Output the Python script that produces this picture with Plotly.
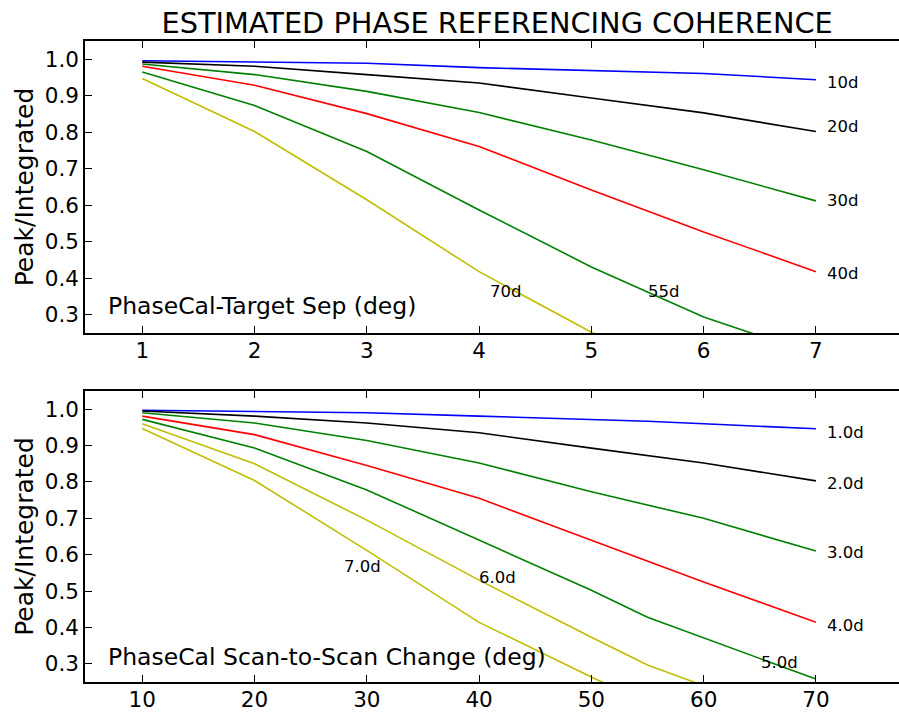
import plotly.graph_objects as go
from plotly.subplots import make_subplots

# ── Data ──────────────────────────────────────────────────
sep_x = [1, 2, 3, 4, 5, 6, 7]
sep_10d = [0.996, 0.993, 0.989, 0.977, 0.970, 0.961, 0.944]
sep_20d = [0.992, 0.981, 0.958, 0.935, 0.894, 0.853, 0.802]
sep_30d = [0.987, 0.958, 0.912, 0.854, 0.779, 0.697, 0.612]
sep_40d = [0.981, 0.929, 0.851, 0.761, 0.642, 0.527, 0.418]
sep_55d = [0.965, 0.873, 0.747, 0.587, 0.431, 0.294, 0.190]
sep_70d = [0.947, 0.802, 0.615, 0.418, 0.252, 0.120, 0.050]

scan_x = [10, 20, 30, 40, 50, 55, 60, 70]
scan_1d = [0.997, 0.993, 0.990, 0.981, 0.973, 0.967, 0.960, 0.946]
scan_2d = [0.995, 0.981, 0.962, 0.935, 0.893, 0.873, 0.852, 0.803]
scan_3d = [0.990, 0.962, 0.914, 0.852, 0.773, 0.737, 0.700, 0.610]
scan_4d = [0.981, 0.930, 0.845, 0.755, 0.640, 0.583, 0.525, 0.414]
scan_5d = [0.972, 0.893, 0.778, 0.640, 0.502, 0.428, 0.371, 0.258]
scan_6d = [0.960, 0.850, 0.695, 0.530, 0.373, 0.297, 0.240, 0.150]
scan_7d = [0.947, 0.804, 0.612, 0.414, 0.264, 0.190, 0.140, 0.070]

y_ticks = [0.3, 0.4, 0.5, 0.6, 0.7, 0.8, 0.9, 1.0]
sep_ticks = [1, 2, 3, 4, 5, 6, 7]
scan_ticks = [10, 20, 30, 40, 50, 60, 70]

BLUE, BLACK, GREEN, RED, YELLOW = "#0000ff", "#000000", "#008000", "#ff0000", "#bfbf00"
FONT = "DejaVu Sans"

fig = make_subplots(rows=2, cols=1, vertical_spacing=0.0)

top = [(sep_10d, BLUE), (sep_20d, BLACK), (sep_30d, GREEN),
       (sep_40d, RED), (sep_55d, GREEN), (sep_70d, YELLOW)]
for ys, c in top:
    fig.add_trace(go.Scatter(x=sep_x, y=ys, mode="lines",
                             line=dict(color=c, width=1.6)), row=1, col=1)

bottom = [(scan_1d, BLUE), (scan_2d, BLACK), (scan_3d, GREEN), (scan_4d, RED),
          (scan_5d, GREEN), (scan_6d, YELLOW), (scan_7d, YELLOW)]
for ys, c in bottom:
    fig.add_trace(go.Scatter(x=scan_x, y=ys, mode="lines",
                             line=dict(color=c, width=1.6)), row=2, col=1)

axis_style = dict(showline=True, linecolor="black", linewidth=1.5,
                  ticks="inside", ticklen=7, tickcolor="black", tickwidth=1,
                  showgrid=False, zeroline=False, automargin=False,
                  tickfont=dict(family=FONT, size=21.5, color="black"))

fig.update_xaxes(**axis_style, mirror="ticks", ticklabelstandoff=-3)
fig.update_yaxes(**axis_style, mirror=False, range=[0.25, 1.05],
                 tickvals=y_ticks, tickformat=".1f",
                 title=dict(text="Peak/Integrated", standoff=4,
                            font=dict(family=FONT, size=25, color="black")))
fig.update_xaxes(range=[0.49, 7.74], tickvals=sep_ticks, row=1, col=1)
fig.update_xaxes(range=[4.9, 77.4], tickvals=scan_ticks, row=2, col=1)
fig.update_layout(
    xaxis=dict(domain=[0, 1]),
    yaxis=dict(domain=[0.5445, 1.0]),
    yaxis2=dict(domain=[0.0, 0.454]),
)

# ── Labels ────────────────────────────────────────────────
def label(text, x, y, row, size=16.5):
    fig.add_annotation(text=text, x=x, y=y, xref=f"x{'' if row == 1 else 2}",
                       yref=f"y{'' if row == 1 else 2}", showarrow=False,
                       xanchor="left", yanchor="middle",
                       font=dict(family=FONT, size=size, color="black"))

for t, y in zip(["10d", "20d", "30d", "40d"], [0.935, 0.816, 0.613, 0.414]):
    label(t, 7.08, y, 1)
label("70d", 4.08, 0.363, 1)
label("55d", 5.49, 0.363, 1)
label("PhaseCal-Target Sep (deg)", 0.68, 0.323, 1, size=23.5)

for t, y in zip(["1.0d", "2.0d", "3.0d", "4.0d"], [0.936, 0.797, 0.605, 0.404]):
    label(t, 70.8, y, 2)
label("7.0d", 27.8, 0.567, 2)
label("6.0d", 39.8, 0.537, 2)
label("5.0d", 64.9, 0.304, 2)
label("PhaseCal Scan-to-Scan Change (deg)", 6.8, 0.320, 2, size=23.5)

fig.update_layout(
    width=899, height=713,
    margin=dict(l=85, r=0, t=41, b=31),
    paper_bgcolor="white", plot_bgcolor="white",
    showlegend=False,
    title=dict(text="ESTIMATED PHASE REFERENCING COHERENCE",
               x=0.553, xanchor="center", y=1 - 22.5 / 713, yanchor="middle",
               font=dict(family=FONT, size=28.8, color="black")),
)

# the browser's default body margin would shift the figure by 8px
fig.write_html("out.html", config={"displayModeBar": False},
               post_script="document.body.style.margin = '0';")
